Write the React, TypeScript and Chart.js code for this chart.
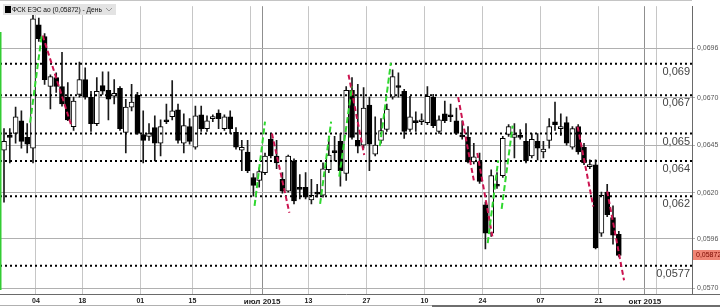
import React, { useEffect, useRef } from "react";
import { Chart, registerables } from "chart.js";

Chart.register(...registerables);

const FONT = '"Liberation Sans", Arial, Helvetica, sans-serif';

// trading-day index of the first candle in the arrays
const START_INDEX = -1;

const OPEN = [
  0.0659, 0.06425, 0.06497, 0.06512, 0.06579, 0.06492, 0.06435, 0.07083, 0.07022, 0.06759,
  0.06806, 0.06759, 0.06703, 0.06548, 0.06718, 0.06795, 0.06703, 0.06564, 0.06764, 0.06739,
  0.06708, 0.06749, 0.06518, 0.06651, 0.06713, 0.06507, 0.06497, 0.06543, 0.06461, 0.06579,
  0.066, 0.06636, 0.06461, 0.06548, 0.0644, 0.0661, 0.06538, 0.0659, 0.0662, 0.06538,
  0.066, 0.06518, 0.06425, 0.06415, 0.06281, 0.06266, 0.06307, 0.06482, 0.06394, 0.06271,
  0.06209, 0.06368, 0.06224, 0.0623, 0.06163, 0.06204, 0.06188, 0.06322, 0.06417, 0.06471,
  0.06302, 0.06739, 0.06476, 0.06451, 0.06662, 0.06404, 0.06476, 0.06533, 0.06703, 0.06762,
  0.06734, 0.06533, 0.06579, 0.06574, 0.06569, 0.06703, 0.06523, 0.06615, 0.0661, 0.06579,
  0.06502, 0.06492, 0.06363, 0.06363, 0.06137, 0.05988, 0.0624, 0.06291, 0.06507, 0.06492,
  0.06502, 0.06471, 0.06394, 0.06471, 0.06415, 0.06476, 0.06574, 0.06538, 0.06569, 0.0644,
  0.06548, 0.0644, 0.06338, 0.06348, 0.05988, 0.06204, 0.0607, 0.05983,
];
const HIGH = [
  0.06615, 0.06538, 0.06538, 0.06651, 0.06631, 0.06564, 0.07166, 0.07119, 0.07037, 0.06821,
  0.06831, 0.06939, 0.0678, 0.06703, 0.06888, 0.06857, 0.06734, 0.06806, 0.06836, 0.06836,
  0.06795, 0.06759, 0.06692, 0.0677, 0.06728, 0.06631, 0.06564, 0.06605, 0.06584, 0.06667,
  0.0679, 0.06667, 0.06615, 0.0659, 0.06656, 0.06656, 0.06605, 0.0661, 0.06636, 0.0661,
  0.06631, 0.06543, 0.06476, 0.06476, 0.06302, 0.06332, 0.0641, 0.06512, 0.06476, 0.06307,
  0.06399, 0.06379, 0.06296, 0.06307, 0.06271, 0.06245, 0.06358, 0.06497, 0.06497, 0.06512,
  0.06759, 0.06806, 0.0677, 0.06754, 0.06703, 0.066, 0.0659, 0.06667, 0.06847, 0.06831,
  0.06744, 0.06708, 0.06626, 0.06615, 0.06759, 0.06718, 0.06605, 0.06682, 0.06667, 0.06646,
  0.06579, 0.06548, 0.06461, 0.0641, 0.06152, 0.06322, 0.06307, 0.06497, 0.06559, 0.06564,
  0.06533, 0.06564, 0.06512, 0.06512, 0.06471, 0.0659, 0.06677, 0.06615, 0.066, 0.06548,
  0.06559, 0.06461, 0.06374, 0.06374, 0.06204, 0.06245, 0.06132, 0.05998,
];
const LOW = [
  0.0641, 0.06152, 0.06358, 0.06461, 0.06435, 0.0641, 0.06358, 0.06996, 0.0677, 0.06641,
  0.06728, 0.06656, 0.06579, 0.06528, 0.06703, 0.06692, 0.06523, 0.06554, 0.06718, 0.06584,
  0.06667, 0.06528, 0.0641, 0.06631, 0.06507, 0.06358, 0.06476, 0.06368, 0.06394, 0.06564,
  0.06584, 0.06461, 0.0641, 0.06456, 0.0643, 0.06523, 0.06523, 0.06574, 0.06538, 0.06528,
  0.06512, 0.0643, 0.06317, 0.06307, 0.06183, 0.0623, 0.06296, 0.06384, 0.06327, 0.06199,
  0.06204, 0.06142, 0.06168, 0.06168, 0.06142, 0.06178, 0.06178, 0.06307, 0.06368, 0.06235,
  0.06266, 0.06482, 0.0641, 0.06435, 0.06317, 0.06394, 0.06461, 0.06523, 0.06692, 0.06703,
  0.06487, 0.06523, 0.06523, 0.06559, 0.06559, 0.06543, 0.06512, 0.06569, 0.06574, 0.06507,
  0.06482, 0.06358, 0.06353, 0.0625, 0.05906, 0.05972, 0.06224, 0.06281, 0.06497, 0.06384,
  0.06482, 0.06358, 0.06384, 0.06374, 0.06384, 0.06435, 0.06528, 0.06502, 0.06451, 0.0643,
  0.06404, 0.06348, 0.06327, 0.05906, 0.05972, 0.06075, 0.05931, 0.05864,
];
const CLOSE = [
  0.06471, 0.06471, 0.06492, 0.066, 0.06471, 0.06456, 0.07114, 0.07011, 0.06795, 0.06811,
  0.06759, 0.06667, 0.06584, 0.06682, 0.06795, 0.06703, 0.06564, 0.06734, 0.06734, 0.06692,
  0.06723, 0.06538, 0.06651, 0.06677, 0.06512, 0.06476, 0.06512, 0.06461, 0.06548, 0.06574,
  0.06631, 0.06476, 0.06554, 0.06471, 0.06605, 0.06538, 0.06579, 0.066, 0.0659, 0.066,
  0.06538, 0.0644, 0.0644, 0.06317, 0.0624, 0.06312, 0.06394, 0.06394, 0.06358, 0.06209,
  0.06394, 0.06158, 0.06219, 0.06178, 0.06188, 0.06194, 0.06327, 0.06399, 0.06412, 0.06317,
  0.06739, 0.06492, 0.06446, 0.06646, 0.06456, 0.06451, 0.06528, 0.06641, 0.06811, 0.06754,
  0.06523, 0.066, 0.06569, 0.06579, 0.06708, 0.06554, 0.06584, 0.06579, 0.066, 0.06512,
  0.06494, 0.06363, 0.06389, 0.0626, 0.05988, 0.06291, 0.06235, 0.06487, 0.06548, 0.06507,
  0.06492, 0.06368, 0.06482, 0.06435, 0.0643, 0.06548, 0.06559, 0.06548, 0.06461, 0.06538,
  0.06415, 0.06358, 0.06348, 0.05911, 0.06188, 0.06086, 0.05978, 0.05872,
];

// x-axis: grid positions (trading-day index) and their labels
const X_TICKS = [5.5, 13.5, 23.5, 32.5, 42.5, 44.5, 52.5, 62.5, 72.5, 82.5, 92.5, 102.5, 110.5, 112.5];
const X_TICK_LABELS = ["04", "18", "01", "15", "", "июл 2015", "13", "27", "10", "24", "07", "21", "окт 2015", ""];
const X_MONTH = [false, false, false, false, false, true, false, false, false, false, false, false, true, false];

// y-axis ticks (right side)
const Y_TICKS = [0.057, 0.0596, 0.062, 0.0645, 0.067, 0.0696];

// visible range
const X_MIN = -0.69;
const X_MAX = 118.62;
const Y_MIN = 0.05669;
const Y_MAX = 0.07181;

// horizontal dotted levels and their labels
const LEVELS = [0.06878, 0.06713, 0.06512, 0.06368, 0.06183, 0.05818];
const LEVEL_LABELS = ["0,069", "0,067", "0,065", "0,064", "0,062", "0,0577"];

// trend segments: [x1, price1, x2, price2]
const UP_TRENDS = [
  [4.5, 0.06569, 6.5, 0.07027],
  [43.2, 0.06132, 45.0, 0.06574],
  [54.5, 0.06142, 56.4, 0.06574],
  [57.8, 0.06286, 60.0, 0.06759],
  [64.8, 0.06446, 66.7, 0.06883],
  [83.4, 0.05936, 85.2, 0.06371],
  [85.8, 0.06116, 87.7, 0.06554],
];
const DOWN_TRENDS = [
  [6.67, 0.07027, 11.67, 0.06548],
  [46.2, 0.06512, 49.2, 0.06096],
  [59.4, 0.06821, 62.1, 0.06399],
  [78.3, 0.06703, 81.0, 0.06266],
  [81.6, 0.0641, 84.2, 0.05972],
  [98.9, 0.06548, 101.6, 0.06129],
  [104.0, 0.06209, 106.9, 0.05741],
];

const TITLE = "ФСК ЕЭС ао";
const PERIOD = "День";

const fmt = (v: number, d: number) => v.toFixed(d).replace(".", ",");

const overlay = {
  id: "overlay",
  afterDraw(chart: any) {
    const ctx = chart.ctx as CanvasRenderingContext2D;
    const a = chart.chartArea;
    const ys = chart.scales.y;
    const W = chart.width;
    ctx.save();

    // top border
    ctx.strokeStyle = "#c4c4c4";
    ctx.lineWidth = 1;
    ctx.beginPath();
    ctx.moveTo(0, 0.5);
    ctx.lineTo(a.right, 0.5);
    ctx.stroke();

    // extend x axis line under the price axis
    ctx.strokeStyle = "#6a6a6a";
    ctx.beginPath();
    ctx.moveTo(a.right, a.bottom + 0.5);
    ctx.lineTo(W, a.bottom + 0.5);
    ctx.stroke();

    // green marker on left edge
    ctx.strokeStyle = "#33cc33";
    ctx.lineWidth = 1.5;
    ctx.beginPath();
    ctx.moveTo(a.left + 0.75, 32);
    ctx.lineTo(a.left + 0.75, a.bottom - 4);
    ctx.stroke();

    // level labels
    ctx.font = `11px ${FONT}`;
    ctx.fillStyle = "#444";
    ctx.textAlign = "right";
    ctx.textBaseline = "middle";
    LEVELS.forEach((v, i) => {
      ctx.fillText(LEVEL_LABELS[i], a.right - 2, ys.getPixelForValue(v) + 8);
    });

    // current price tag
    const last = CLOSE[CLOSE.length - 1];
    const py = ys.getPixelForValue(last);
    ctx.fillStyle = "#ef8575";
    ctx.fillRect(a.right + 1, Math.round(py) - 5, W - a.right - 1, 10);
    ctx.fillStyle = "#7a0a00";
    ctx.font = `7px ${FONT}`;
    ctx.textAlign = "left";
    ctx.fillText(fmt(last, 5), a.right + 4, Math.round(py));

    // legend box
    ctx.fillStyle = "#e3e3e3";
    ctx.fillRect(3, 4, 113, 11);
    ctx.fillStyle = "#000";
    ctx.fillRect(5, 6, 6, 7);
    const text = `${TITLE} (${fmt(last, 5)}) - ${PERIOD}`;
    let size = 8;
    ctx.font = `${size}px ${FONT}`;
    const w = ctx.measureText(text).width;
    if (w > 90) {
      size = (size * 90) / w;
      ctx.font = `${size}px ${FONT}`;
    }
    ctx.fillStyle = "#111";
    ctx.textAlign = "left";
    ctx.textBaseline = "middle";
    ctx.fillText(text, 12, 10);
    ctx.strokeStyle = "#999";
    ctx.lineWidth = 1;
    ctx.beginPath();
    ctx.moveTo(106, 8);
    ctx.lineTo(109, 11);
    ctx.lineTo(112, 8);
    ctx.stroke();

    // bottom scroll bar
    ctx.fillStyle = "#b0b0b0";
    ctx.fillRect(0, chart.height - 2, W, 1);
    ctx.fillStyle = "#6e6e6e";
    ctx.fillRect(432, chart.height - 2, W - 432, 2);

    ctx.restore();
  },
};

export default function App() {
  const ref = useRef<HTMLCanvasElement>(null);
  useEffect(() => {
    document.body.style.margin = "0";
    const canvas = ref.current!;
    const xs = OPEN.map((_, i) => i + START_INDEX);
    const wickData = xs.map((x, i) => ({ x, y: [LOW[i], HIGH[i]] }));
    const bodyData = xs.map((x, i) => ({
      x,
      y: [Math.min(OPEN[i], CLOSE[i]), Math.max(OPEN[i], CLOSE[i])],
    }));
    const bodyColors = xs.map((_, i) => (CLOSE[i] >= OPEN[i] ? "#ffffff" : "#000000"));

    const trendSets = [
      ...UP_TRENDS.map((t) => ({ t, color: "#2fd82f", dash: [6, 3] })),
      ...DOWN_TRENDS.map((t) => ({ t, color: "#cc1450", dash: [5, 3] })),
    ].map(({ t, color, dash }) => ({
      type: "line" as const,
      data: [
        { x: t[0], y: t[1] },
        { x: t[2], y: t[3] },
      ],
      borderColor: color,
      borderWidth: 2,
      borderDash: dash,
      pointRadius: 0,
      tension: 0,
      order: 1,
    }));

    const levelSets = LEVELS.map((v) => ({
      type: "line" as const,
      data: [
        { x: X_MIN, y: v },
        { x: X_MAX, y: v },
      ],
      borderColor: "#000",
      borderWidth: 2,
      borderDash: [2, 3],
      pointRadius: 0,
      order: 2,
    }));

    const chart = new Chart(canvas, {
      type: "bar",
      data: {
        datasets: [
          ...trendSets,
          ...levelSets,
          {
            type: "bar",
            data: bodyData as any,
            backgroundColor: bodyColors,
            borderColor: "#000",
            borderWidth: 1,
            borderSkipped: false,
            barThickness: 5,
            minBarLength: 2,
            grouped: false,
            order: 3,
          } as any,
          {
            type: "bar",
            data: wickData as any,
            backgroundColor: "#1a1a1a",
            borderWidth: 0,
            barThickness: 1,
            grouped: false,
            order: 4,
          } as any,
        ],
      },
      options: {
        animation: false,
        responsive: false,
        events: [],
        layout: { padding: 0, autoPadding: false } as any,
        plugins: { legend: { display: false }, tooltip: { enabled: false } },
        scales: {
          x: {
            type: "linear",
            min: X_MIN,
            max: X_MAX,
            offset: false,
            afterBuildTicks: (s: any) => {
              s.ticks = X_TICKS.map((v) => ({ value: v }));
            },
            afterFit: (s: any) => {
              s.height = 13;
            },
            grid: {
              offset: false,
              drawTicks: false,
              color: (c: any) => (X_MONTH[c.index] ? "#8f8f8f" : "#c6c6c6"),
              lineWidth: 1,
            },
            border: { color: "#6a6a6a", width: 1 },
            ticks: {
              autoSkip: false,
              maxRotation: 0,
              padding: 3,
              color: "#222",
              font: (c: any) => ({
                family: FONT,
                size: X_MONTH[c.index] ? 8 : 7,
                weight: "bold",
              }),
              callback: (_v: any, i: number) => X_TICK_LABELS[i],
            },
          } as any,
          y: {
            type: "linear",
            position: "right",
            min: Y_MIN,
            max: Y_MAX,
            afterBuildTicks: (s: any) => {
              s.ticks = Y_TICKS.map((v) => ({ value: v }));
            },
            afterFit: (s: any) => {
              s.width = 28;
            },
            grid: { color: "#b0b0b0", lineWidth: 1, tickLength: 3, drawOnChartArea: true },
            border: { color: "#6a6a6a", width: 1 },
            ticks: {
              padding: 2,
              color: "#555",
              font: { family: FONT, size: 7 },
              callback: (v: any) => fmt(Number(v), 4),
            },
          } as any,
        },
      },
      plugins: [overlay],
    });
    return () => chart.destroy();
  }, []);
  return (
    <div style={{ width: 720, height: 307, background: "#fff" }}>
      <canvas ref={ref} width={720} height={307} style={{ display: "block" }} />
    </div>
  );
}
